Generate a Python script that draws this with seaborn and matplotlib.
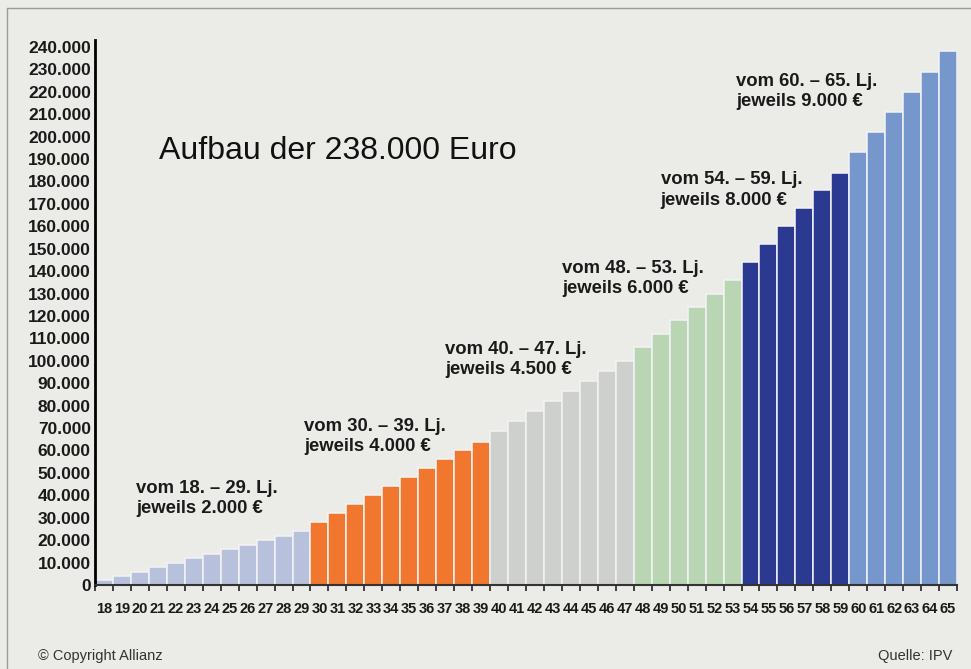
import matplotlib
matplotlib.use('Agg')
import matplotlib.pyplot as plt
import seaborn as sns
import pandas as pd
from matplotlib.lines import Line2D
from matplotlib.ticker import MultipleLocator

# Data: accumulated capital per age
ages = list(range(18, 66))
values = [2000, 4000, 6000, 8000, 10000, 12000, 14000, 16000, 18000, 20000, 22000, 24000,
          28000, 32000, 36000, 40000, 44000, 48000, 52000, 56000, 60000, 64000,
          68500, 73000, 77500, 82000, 86500, 91000, 95500, 100000,
          106000, 112000, 118000, 124000, 130000, 136000,
          144000, 152000, 160000, 168000, 176000, 184000,
          193000, 202000, 211000, 220000, 229000, 238000]
group_names = ['18-29', '30-39', '40-47', '48-53', '54-59', '60-65']
group_sizes = [12, 10, 8, 6, 6, 6]
group_colors = ['#b7c1dc', '#f2772e', '#cdd0cd', '#bad5b3', '#2b3990', '#7597cc']
group_labels = ['vom 18. – 29. Lj.\njeweils 2.000 €',
                'vom 30. – 39. Lj.\njeweils 4.000 €',
                'vom 40. – 47. Lj.\njeweils 4.500 €',
                'vom 48. – 53. Lj.\njeweils 6.000 €',
                'vom 54. – 59. Lj.\njeweils 8.000 €',
                'vom 60. – 65. Lj.\njeweils 9.000 €']
y_ticks = list(range(0, 240001, 10000))
y_tick_labels = ['0'] + [f'{v // 1000}.000' for v in y_ticks[1:]]

groups = []
for name, n in zip(group_names, group_sizes):
    groups += [name] * n
df = pd.DataFrame({'age': [str(a) for a in ages], 'value': values, 'group': groups})

bg = '#ebebe8'
sns.set_theme(style='white')
plt.rcParams['font.family'] = ['Liberation Sans', 'DejaVu Sans']

fig = plt.figure(figsize=(9.71, 6.69), dpi=100, facecolor=bg)
ax = fig.add_axes([0.0978, 0.1256, 0.8878, 0.8142])
ax.set_facecolor(bg)

sns.barplot(data=df, x='age', y='value', hue='group',
            palette=dict(zip(group_names, group_colors)), saturation=1,
            dodge=False, width=1.0, legend=False,
            edgecolor='#f3f3f6', linewidth=1.1, ax=ax)

ax.set_xlim(-0.5, len(ages) - 0.5)
ax.set_ylim(0, 243000)
ax.set_xlabel('')
ax.set_ylabel('')

for s in ['top', 'right']:
    ax.spines[s].set_visible(False)
ax.spines['left'].set_color('black')
ax.spines['left'].set_linewidth(2)
ax.spines['bottom'].set_color('#333333')
ax.spines['bottom'].set_linewidth(1.5)

ax.set_yticks(y_ticks)
ax.set_yticklabels(y_tick_labels, fontsize=12.5, fontweight='bold', color='#1a1a1a')
ax.tick_params(axis='y', length=0, pad=3)

ax.set_xticks(range(len(ages)))
ax.set_xticklabels([str(a) for a in ages], fontsize=10.5, fontweight='bold', color='#1a1a1a')
ax.tick_params(axis='x', which='major', length=0, pad=12)
ax.xaxis.set_minor_locator(MultipleLocator(1, offset=0.5))
ax.tick_params(axis='x', which='minor', bottom=True, length=4, width=1.2, color='#222222')

# group annotations (left/top of text block in data coords)
ann_pos = [(1.8, 47000), (11.15, 74500), (19.0, 109000), (25.5, 145000), (31.0, 184500), (35.2, 228500)]
for (x, y), txt in zip(ann_pos, group_labels):
    ax.text(x, y, txt, ha='left', va='top', fontsize=13.3, fontweight='bold',
            color='#1a1a1a', linespacing=1.25)

fig.text(159 / 971, 1 - 151 / 669, 'Aufbau der 238.000 Euro', fontsize=23,
         color='#111111', ha='left', va='center')

fig.text(38 / 971, 1 - 656 / 669, '© Copyright Allianz', fontsize=10.5,
         color='#333333', ha='left', va='center')
fig.text(952 / 971, 1 - 656 / 669, 'Quelle: IPV', fontsize=10.5,
         color='#333333', ha='right', va='center')

# outer frame lines (left and top)
fig.add_artist(Line2D([7 / 971, 7 / 971], [0, 1 - 8 / 669], transform=fig.transFigure,
                      color='#9a9a9a', linewidth=1))
fig.add_artist(Line2D([7 / 971, 1], [1 - 8 / 669, 1 - 8 / 669], transform=fig.transFigure,
                      color='#9a9a9a', linewidth=1))

fig.savefig('out.png', dpi=100, facecolor=bg)
